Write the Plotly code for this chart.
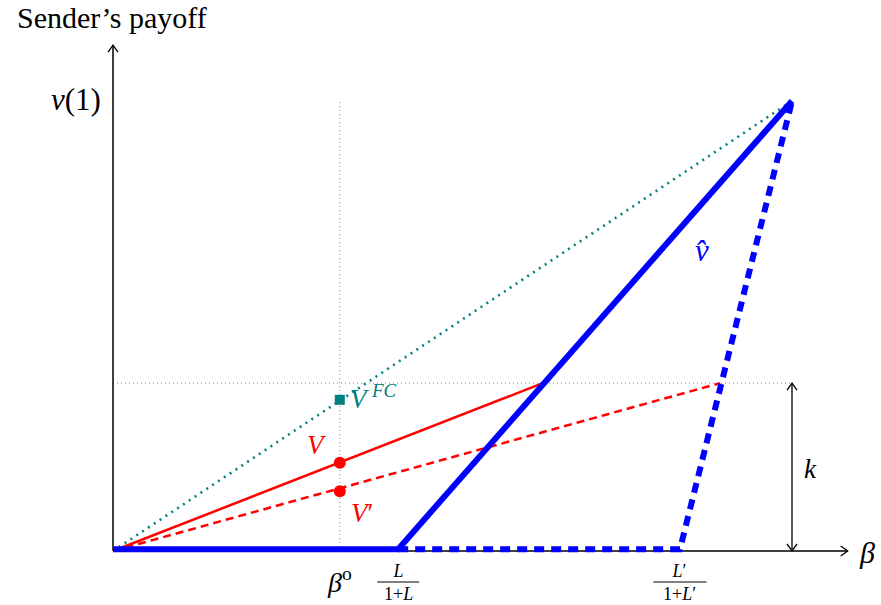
import plotly.graph_objects as go

# ---- data (in normalized units: beta on x, payoff on y) ----
beta_o = 0.334          # β^o
L_frac = 0.42           # L/(1+L)
Lp_frac = 0.835         # L'/(1+L')
nu1 = 1.0               # ν(1)
k_level = 0.373         # k
red_solid_end = 0.633   # where V line meets k level
red_dash_end = 0.894    # where V' line meets k level
V_val = 0.196
Vp_val = 0.133
VFC_val = 0.336
x_axis_end = 1.082
y_axis_end = 1.124

SX, SY = 679.0, 450.0   # px per unit
SERIF = "Liberation Serif"
TEAL = "#008080"
RED = "#ff0000"
BLUE = "#0000ff"

fig = go.Figure()

def seg(xs, ys, color, width, dash="solid"):
    fig.add_trace(go.Scatter(x=xs, y=ys, mode="lines",
                             line=dict(color=color, width=width, dash=dash),
                             hoverinfo="skip", showlegend=False))

# gray dotted guide lines
seg([beta_o, beta_o], [0, nu1], "#888888", 1, "1px,3px")
seg([0, 1.0], [k_level, k_level], "#888888", 1, "1px,3px")

# axes
seg([0, x_axis_end], [0, 0], "black", 1.5)
seg([0, 0], [0, y_axis_end], "black", 1.5)

# arrowheads (open, TikZ style)
ah, aw = 7 / SX, 5 / SY
seg([x_axis_end - ah, x_axis_end, x_axis_end - ah], [aw, 0, -aw], "black", 1.3)
ah2, aw2 = 7 / SY, 5 / SX
seg([-aw2, 0, aw2], [y_axis_end - ah2, y_axis_end, y_axis_end - ah2], "black", 1.3)

# k double arrow
seg([1.0, 1.0], [0, k_level], "black", 1.3)
seg([1.0 - aw2, 1.0, 1.0 + aw2], [k_level - ah2, k_level, k_level - ah2], "black", 1.3)
seg([1.0 - aw2, 1.0, 1.0 + aw2], [ah2, 0, ah2], "black", 1.3)

# teal dotted V^FC line
seg([0, 1.0], [0, nu1], TEAL, 2.6, "2px,5px")

# red lines
seg([0, red_solid_end], [0, k_level], RED, 2.5)
seg([0, red_dash_end], [0, k_level], RED, 2.5, "8px,5px")

# blue v-hat
seg([0, L_frac, 1.0], [0.004, 0.004, nu1], BLUE, 6)
seg([L_frac, Lp_frac, 1.0], [0.004, 0.004, nu1], BLUE, 6, "10px,7px")

# markers
fig.add_trace(go.Scatter(x=[beta_o], y=[VFC_val], mode="markers",
                         marker=dict(symbol="square", size=10, color=TEAL),
                         hoverinfo="skip", showlegend=False))
fig.add_trace(go.Scatter(x=[beta_o, beta_o], y=[V_val, Vp_val], mode="markers",
                         marker=dict(symbol="circle", size=12, color=RED),
                         hoverinfo="skip", showlegend=False))

ann = []
def txt(x, y, s, size, color="black", xanchor="center", xshift=0, yshift=0, yanchor="middle"):
    ann.append(dict(x=x, y=y, text=s, showarrow=False, xanchor=xanchor, yanchor=yanchor,
                    xshift=xshift, yshift=yshift, borderpad=0,
                    font=dict(family=SERIF, size=size, color=color)))

txt(0, y_axis_end, "Sender’s payoff", 30, xshift=-1, yshift=28)
txt(0, nu1, "<i>ν</i>(1)", 31, xanchor="right", xshift=-11, yshift=2)
txt(x_axis_end, 0, "<i>β</i>", 30, xanchor="left", xshift=10, yshift=-1)
txt(1.0, k_level / 2, "<i>k</i>", 27, xanchor="left", xshift=11, yshift=-2)
txt(beta_o, 0, "<i>β</i><sup>o</sup>", 28, yshift=-29)
txt(beta_o, VFC_val, "<i>V</i>\u2009<sup><i>FC</i></sup>", 27, color=TEAL, xanchor="left", xshift=9, yshift=3)
txt(beta_o, V_val, "<i>V</i>", 27, color=RED, xshift=-23, yshift=18)
txt(beta_o, Vp_val, "<i>V</i>′", 27, color=RED, xanchor="left", xshift=10, yshift=-22)
txt(0.867, 0.667, "<i>v̂</i>", 31, color=BLUE)

# fractions under axis (one text each, numerator over denominator)
for xc, num, den, w in [(L_frac, "<i>L</i>", "1+<i>L</i>", 42), (Lp_frac, "<i>L</i>′", "1+<i>L</i>′", 53)]:
    txt(xc, 0, num + "<br>" + den, 18, yshift=-31)
    fig.add_shape(type="line", x0=xc - w / 2 / SX, x1=xc + w / 2 / SX,
                  y0=-31 / SY, y1=-31 / SY, line=dict(color="black", width=1))

fig.update_layout(
    width=881, height=605,
    margin=dict(l=0, r=0, t=0, b=0),
    paper_bgcolor="white", plot_bgcolor="white",
    annotations=ann,
    xaxis=dict(range=[-113 / SX, (881 - 113) / SX], visible=False, fixedrange=True),
    yaxis=dict(range=[-(605 - 551) / SY, 551 / SY], visible=False, fixedrange=True),
)

fig.write_html("out.html", config={"displayModeBar": False},
               post_script="document.body.style.margin='0';document.body.style.overflow='hidden';")
